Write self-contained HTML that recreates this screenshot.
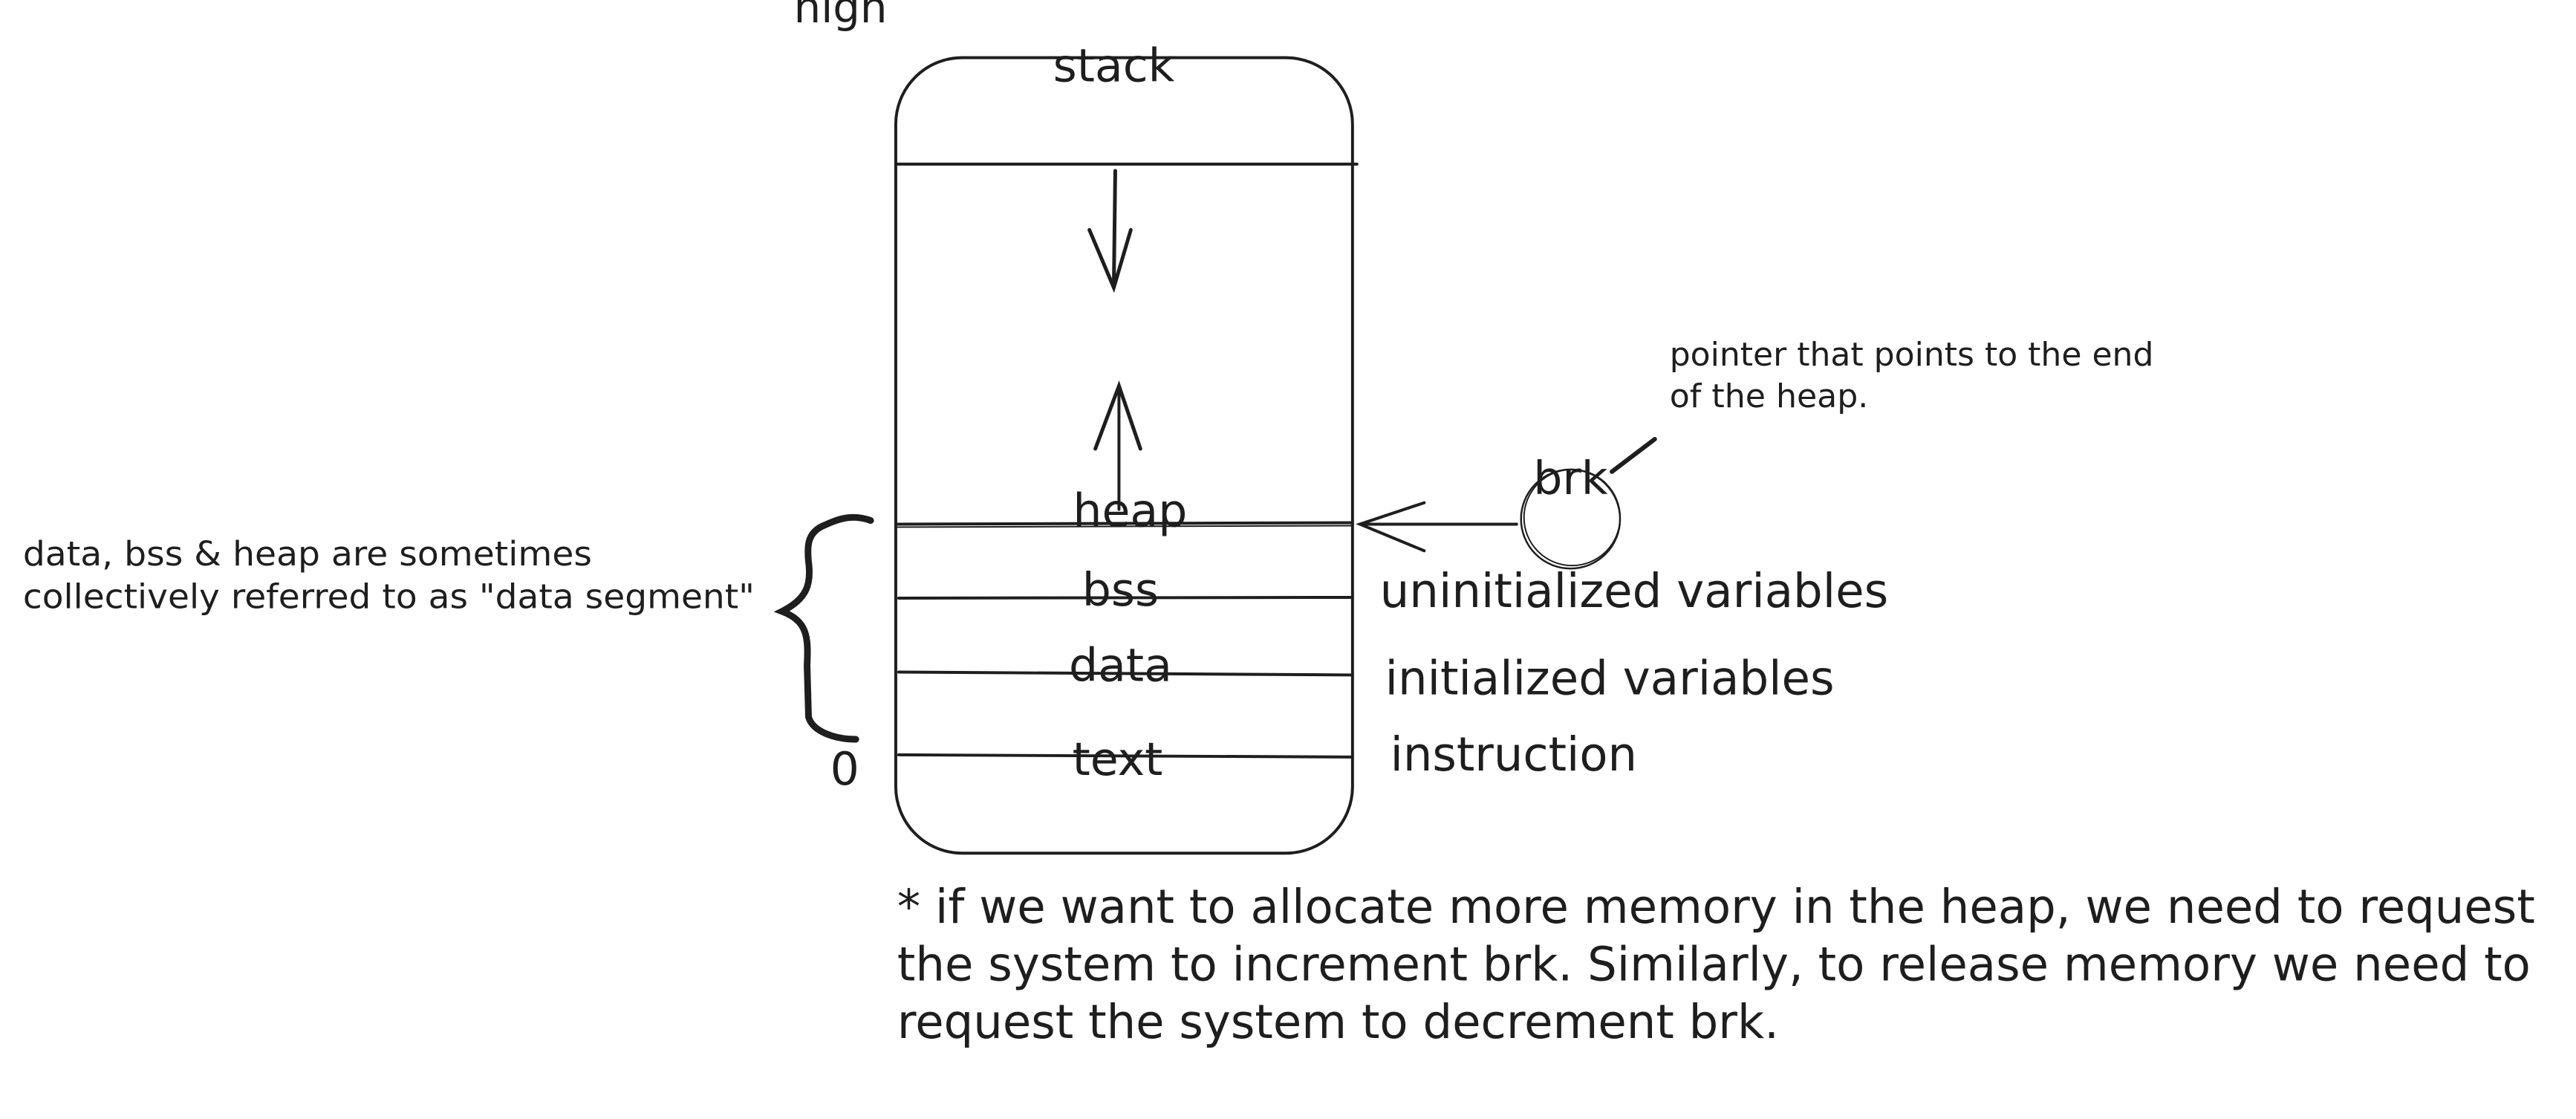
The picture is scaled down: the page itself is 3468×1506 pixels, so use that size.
<!DOCTYPE html>
<html><head><meta charset="utf-8"><style>
html,body{margin:0;padding:0;background:#fff;}
svg{display:block;}
text{font-family:"DejaVu Sans","Liberation Sans",sans-serif;fill:#1e1e1e;}
</style></head><body>
<svg width="3468" height="1506" viewBox="0 0 3468 1506" xmlns="http://www.w3.org/2000/svg">
<g transform="scale(0.995)">
<g fill="none" stroke="#1e1e1e" stroke-width="4" stroke-linecap="round">
<rect x="1212" y="78" width="618" height="1076" rx="90" ry="90"/>
<line x1="1214" y1="222" x2="1836" y2="222"/>
<line x1="1214" y1="709" x2="1830" y2="707"/>
<line x1="1214" y1="713" x2="1830" y2="711" stroke-width="2"/>
<line x1="1216" y1="809" x2="1830" y2="808"/>
<line x1="1216" y1="909" x2="1830" y2="913"/>
<line x1="1216" y1="1021" x2="1830" y2="1024"/>
<line x1="1509" y1="231" x2="1507" y2="389" stroke-width="5"/>
<polyline points="1474,311 1507,389 1530,311" stroke-width="5"/>
<line x1="1514" y1="689" x2="1514" y2="522"/>
<polyline points="1482,607 1514,522 1543,607" stroke-width="5"/>
<line x1="2052" y1="709" x2="1840" y2="709"/>
<polyline points="1927,680 1840,709 1927,745"/>
<circle cx="2125" cy="702" r="67" stroke-width="2.5"/>
<circle cx="2127" cy="700" r="65" stroke-width="2"/>
<line x1="2181" y1="638" x2="2239" y2="594" stroke-width="6"/>
<path d="M1178,704 C1150,694 1130,704 1112,712 C1092,722 1092,740 1094,760 C1098,790 1092,810 1058,827 C1092,840 1094,860 1092,900 L1094,970 C1100,990 1130,1000 1158,1000" stroke-width="9"/>
</g>
<text x="1074" y="30" font-size="58">high</text>
<text x="1507" y="89" font-size="62" text-anchor="middle" dominant-baseline="central">stack</text>
<text x="1529" y="691" font-size="62" text-anchor="middle" dominant-baseline="central">heap</text>
<text x="1516" y="798" font-size="62" text-anchor="middle" dominant-baseline="central">bss</text>
<text x="1516" y="900" font-size="62" text-anchor="middle" dominant-baseline="central">data</text>
<text x="1512" y="1027" font-size="62" text-anchor="middle" dominant-baseline="central">text</text>
<text x="1143" y="1040" font-size="62" text-anchor="middle" dominant-baseline="central">0</text>
<text x="2125" y="647" font-size="62" text-anchor="middle" dominant-baseline="central">brk</text>
<text x="31" y="749" font-size="46" dominant-baseline="central" textLength="770" lengthAdjust="spacingAndGlyphs">data, bss &amp; heap are sometimes</text>
<text x="31" y="807" font-size="46" dominant-baseline="central" textLength="990" lengthAdjust="spacingAndGlyphs">collectively referred to as "data segment"</text>
<text x="2259" y="480" font-size="44" dominant-baseline="central" textLength="655" lengthAdjust="spacingAndGlyphs">pointer that points to the end</text>
<text x="2259" y="536" font-size="44" dominant-baseline="central" textLength="269" lengthAdjust="spacingAndGlyphs">of the heap.</text>
<text x="1867" y="800" font-size="64" dominant-baseline="central" textLength="688" lengthAdjust="spacingAndGlyphs">uninitialized variables</text>
<text x="1874" y="918" font-size="64" dominant-baseline="central" textLength="608" lengthAdjust="spacingAndGlyphs">initialized variables</text>
<text x="1881" y="1021" font-size="64" dominant-baseline="central" textLength="334" lengthAdjust="spacingAndGlyphs">instruction</text>
<text x="1214" y="1227" font-size="64" dominant-baseline="central" textLength="2216" lengthAdjust="spacingAndGlyphs">* if we want to allocate more memory in the heap, we need to request</text>
<text x="1214" y="1305" font-size="64" dominant-baseline="central" textLength="2210" lengthAdjust="spacingAndGlyphs">the system to increment brk. Similarly, to release memory we need to</text>
<text x="1214" y="1383" font-size="64" dominant-baseline="central" textLength="1193" lengthAdjust="spacingAndGlyphs">request the system to decrement brk.</text>
</g>
</svg>
</body></html>
